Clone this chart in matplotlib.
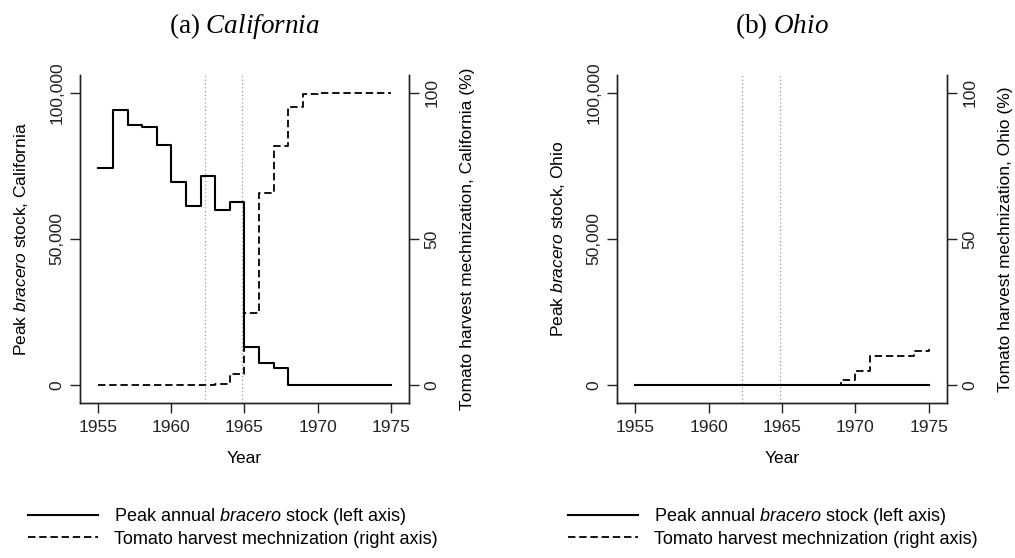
import matplotlib
matplotlib.use("Agg")
import matplotlib.pyplot as plt
import numpy as np

plt.rcParams['font.family'] = ['Liberation Sans', 'DejaVu Sans']
plt.rcParams['mathtext.fontset'] = 'custom'
plt.rcParams['mathtext.it'] = 'Liberation Sans:italic'
plt.rcParams['mathtext.rm'] = 'Liberation Sans'
plt.rcParams['mathtext.cal'] = 'Liberation Serif:italic'

years = list(range(1955, 1976))

# California
ca_bracero = [74200, 94200, 89000, 88500, 82100, 69600, 61400, 71700, 59900, 62700,
              12900, 7600, 5700, 0, 0, 0, 0, 0, 0, 0, 0]
ca_mech = [0, 0, 0, 0, 0, 0, 0, 0, 0.5, 3.8, 24.5, 65.9, 81.8, 95.1, 99.5,
           100, 100, 100, 100, 100, 100]

# Ohio
oh_bracero = [0] * 21
oh_mech = [0, 0, 0, 0, 0, 0, 0, 0, 0, 0, 0, 0, 0, 0, 1.7, 4.9, 10.0, 10.0, 10.0, 11.6, 12.4]

vlines = [1962.28, 1964.85]
left_ticks = [0, 50000, 100000]
left_ticklabels = ["0", "50,000", "100,000"]
right_ticks = [0, 50, 100]
x_ticks = [1955, 1960, 1965, 1970, 1975]

W, H = 1015, 558
fig = plt.figure(figsize=(W / 100, H / 100), dpi=100)

panels = [
    dict(left=80, right=409, bracero=ca_bracero, mech=ca_mech,
         title="(a) $\\mathcal{California}$",
         ylab="Peak $\\it{bracero}$ stock, California",
         rlab="Tomato harvest mechnization, California (%)", leg_x=33),
    dict(left=617, right=947, bracero=oh_bracero, mech=oh_mech,
         title="(b) $\\mathcal{Ohio}$",
         ylab="Peak $\\it{bracero}$ stock, Ohio",
         rlab="Tomato harvest mechnization, Ohio (%)", leg_x=573),
]
top, bottom = 75, 403
fs = 12.5

for p in panels:
    ax = fig.add_axes([p['left'] / W, (H - bottom) / H,
                       (p['right'] - p['left']) / W, (bottom - top) / H])
    ax2 = ax.twinx()
    for v in vlines:
        ax.axvline(v, color='#9a9a9a', lw=0.9, ls=(0, (1, 2)), zorder=1)
    l1, = ax.step(years, p['bracero'], where='post', color='black', lw=1.5,
                  label="Peak annual $\\it{bracero}$ stock (left axis)", zorder=3)
    l2, = ax2.step(years, p['mech'], where='post', color='black', lw=1.3,
                   ls=(0, (4.1, 2.1)),
                   label="Tomato harvest mechnization (right axis)", zorder=3)
    ax.set_xlim(1953.75, 1976.25)
    ax.set_ylim(-6164, 106160)
    ax2.set_ylim(-6.164, 106.16)
    ax.set_xticks(x_ticks)
    ax.set_yticks(left_ticks)
    ax.set_yticklabels(left_ticklabels, rotation=90, va='center')
    ax2.set_yticks(right_ticks)
    ax2.set_yticklabels([str(t) for t in right_ticks], rotation=90, va='center')
    for a in (ax, ax2):
        a.spines['top'].set_visible(False)
        for s in a.spines.values():
            s.set_linewidth(1.0)
            s.set_color('#222222')
        a.tick_params(direction='out', length=7, width=1.0, labelsize=fs,
                      pad=4, colors='#222222')
    ax.tick_params(axis='x', pad=5)
    ax.set_xlabel("Year", fontsize=fs, labelpad=12)
    ax.set_ylabel(p['ylab'], fontsize=fs, labelpad=14)
    ax2.set_ylabel(p['rlab'], fontsize=fs, labelpad=15)
    cx = (p['left'] + p['right']) / 2 / W
    fig.text(cx, 1 - 26 / H, p['title'], ha='center', va='center',
             fontsize=19.5, family='Liberation Serif')
    fig.legend(handles=[l1, l2], loc='upper left',
               bbox_to_anchor=(p['leg_x'] / W - 0.005, 1 - 506 / H),
               frameon=False, fontsize=13, handlelength=3.9,
               handletextpad=0.85, labelspacing=0.2, borderpad=0, borderaxespad=0)

fig.savefig("out.png", dpi=100)
